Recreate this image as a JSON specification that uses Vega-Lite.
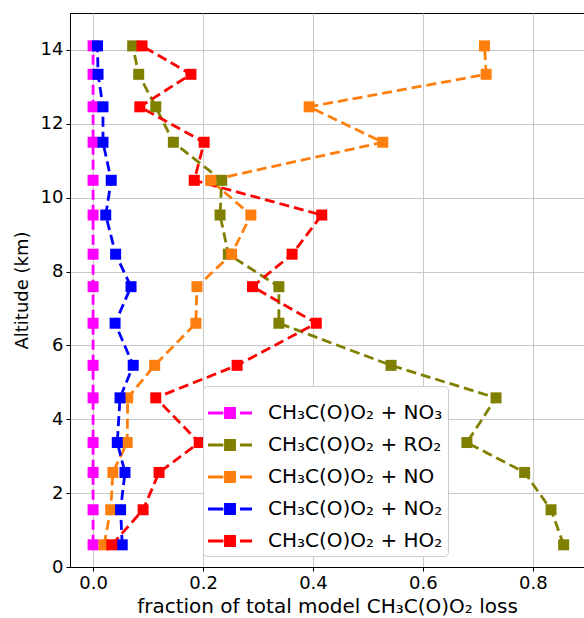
{
  "$schema": "https://vega.github.io/schema/vega-lite/v6.json",
  "width": 514,
  "height": 554,
  "autosize": {"type": "none"},
  "padding": {"left": 70, "top": 13, "right": 0, "bottom": 51},
  "background": "white",
  "config": {
    "font": "DejaVu Sans",
    "view": {"stroke": "#000000", "strokeWidth": 1},
    "axis": {
      "labelFont": "DejaVu Sans",
      "titleFont": "DejaVu Sans",
      "labelFontSize": 18,
      "titleFontSize": 18,
      "titleFontWeight": "normal",
      "labelColor": "#000000",
      "titleColor": "#000000",
      "domainColor": "#000000",
      "tickColor": "#000000",
      "tickSize": 4,
      "labelPadding": 3,
      "gridColor": "#c8c8c8",
      "gridWidth": 1
    },
    "legend": {
      "labelFont": "DejaVu Sans",
      "labelFontSize": 20,
      "labelColor": "#000000"
    }
  },
  "resolve": {"legend": {"color": "independent"}},
  "data": {
    "values": [
      {"s": "CH₃C(O)O₂ + NO₃", "a": 14.11, "f": 0.0},
      {"s": "CH₃C(O)O₂ + NO₃", "a": 13.34, "f": 0.0},
      {"s": "CH₃C(O)O₂ + NO₃", "a": 12.46, "f": 0.0},
      {"s": "CH₃C(O)O₂ + NO₃", "a": 11.5, "f": 0.0},
      {"s": "CH₃C(O)O₂ + NO₃", "a": 10.47, "f": 0.0},
      {"s": "CH₃C(O)O₂ + NO₃", "a": 9.53, "f": 0.0},
      {"s": "CH₃C(O)O₂ + NO₃", "a": 8.47, "f": 0.0},
      {"s": "CH₃C(O)O₂ + NO₃", "a": 7.59, "f": 0.0},
      {"s": "CH₃C(O)O₂ + NO₃", "a": 6.6, "f": 0.0},
      {"s": "CH₃C(O)O₂ + NO₃", "a": 5.46, "f": 0.0},
      {"s": "CH₃C(O)O₂ + NO₃", "a": 4.58, "f": 0.0},
      {"s": "CH₃C(O)O₂ + NO₃", "a": 3.37, "f": 0.0},
      {"s": "CH₃C(O)O₂ + NO₃", "a": 2.56, "f": 0.0},
      {"s": "CH₃C(O)O₂ + NO₃", "a": 1.55, "f": 0.0},
      {"s": "CH₃C(O)O₂ + NO₃", "a": 0.6, "f": 0.0},

      {"s": "CH₃C(O)O₂ + RO₂", "a": 14.11, "f": 0.072},
      {"s": "CH₃C(O)O₂ + RO₂", "a": 13.34, "f": 0.083},
      {"s": "CH₃C(O)O₂ + RO₂", "a": 12.46, "f": 0.114},
      {"s": "CH₃C(O)O₂ + RO₂", "a": 11.5, "f": 0.146},
      {"s": "CH₃C(O)O₂ + RO₂", "a": 10.47, "f": 0.234},
      {"s": "CH₃C(O)O₂ + RO₂", "a": 9.53, "f": 0.231},
      {"s": "CH₃C(O)O₂ + RO₂", "a": 8.47, "f": 0.246},
      {"s": "CH₃C(O)O₂ + RO₂", "a": 7.59, "f": 0.338},
      {"s": "CH₃C(O)O₂ + RO₂", "a": 6.6, "f": 0.338},
      {"s": "CH₃C(O)O₂ + RO₂", "a": 5.46, "f": 0.542},
      {"s": "CH₃C(O)O₂ + RO₂", "a": 4.58, "f": 0.733},
      {"s": "CH₃C(O)O₂ + RO₂", "a": 3.37, "f": 0.68},
      {"s": "CH₃C(O)O₂ + RO₂", "a": 2.56, "f": 0.785},
      {"s": "CH₃C(O)O₂ + RO₂", "a": 1.55, "f": 0.833},
      {"s": "CH₃C(O)O₂ + RO₂", "a": 0.6, "f": 0.856},

      {"s": "CH₃C(O)O₂ + NO", "a": 14.11, "f": 0.712},
      {"s": "CH₃C(O)O₂ + NO", "a": 13.34, "f": 0.715},
      {"s": "CH₃C(O)O₂ + NO", "a": 12.46, "f": 0.393},
      {"s": "CH₃C(O)O₂ + NO", "a": 11.5, "f": 0.527},
      {"s": "CH₃C(O)O₂ + NO", "a": 10.47, "f": 0.214},
      {"s": "CH₃C(O)O₂ + NO", "a": 9.53, "f": 0.287},
      {"s": "CH₃C(O)O₂ + NO", "a": 8.47, "f": 0.252},
      {"s": "CH₃C(O)O₂ + NO", "a": 7.59, "f": 0.189},
      {"s": "CH₃C(O)O₂ + NO", "a": 6.6, "f": 0.187},
      {"s": "CH₃C(O)O₂ + NO", "a": 5.46, "f": 0.112},
      {"s": "CH₃C(O)O₂ + NO", "a": 4.58, "f": 0.063},
      {"s": "CH₃C(O)O₂ + NO", "a": 3.37, "f": 0.062},
      {"s": "CH₃C(O)O₂ + NO", "a": 2.56, "f": 0.036},
      {"s": "CH₃C(O)O₂ + NO", "a": 1.55, "f": 0.032},
      {"s": "CH₃C(O)O₂ + NO", "a": 0.6, "f": 0.02},

      {"s": "CH₃C(O)O₂ + NO₂", "a": 14.11, "f": 0.008},
      {"s": "CH₃C(O)O₂ + NO₂", "a": 13.34, "f": 0.009},
      {"s": "CH₃C(O)O₂ + NO₂", "a": 12.46, "f": 0.018},
      {"s": "CH₃C(O)O₂ + NO₂", "a": 11.5, "f": 0.018},
      {"s": "CH₃C(O)O₂ + NO₂", "a": 10.47, "f": 0.033},
      {"s": "CH₃C(O)O₂ + NO₂", "a": 9.53, "f": 0.023},
      {"s": "CH₃C(O)O₂ + NO₂", "a": 8.47, "f": 0.041},
      {"s": "CH₃C(O)O₂ + NO₂", "a": 7.59, "f": 0.069},
      {"s": "CH₃C(O)O₂ + NO₂", "a": 6.6, "f": 0.04},
      {"s": "CH₃C(O)O₂ + NO₂", "a": 5.46, "f": 0.073},
      {"s": "CH₃C(O)O₂ + NO₂", "a": 4.58, "f": 0.049},
      {"s": "CH₃C(O)O₂ + NO₂", "a": 3.37, "f": 0.044},
      {"s": "CH₃C(O)O₂ + NO₂", "a": 2.56, "f": 0.058},
      {"s": "CH₃C(O)O₂ + NO₂", "a": 1.55, "f": 0.05},
      {"s": "CH₃C(O)O₂ + NO₂", "a": 0.6, "f": 0.053},

      {"s": "CH₃C(O)O₂ + HO₂", "a": 14.11, "f": 0.089},
      {"s": "CH₃C(O)O₂ + HO₂", "a": 13.34, "f": 0.178},
      {"s": "CH₃C(O)O₂ + HO₂", "a": 12.46, "f": 0.085},
      {"s": "CH₃C(O)O₂ + HO₂", "a": 11.5, "f": 0.202},
      {"s": "CH₃C(O)O₂ + HO₂", "a": 10.47, "f": 0.184},
      {"s": "CH₃C(O)O₂ + HO₂", "a": 9.53, "f": 0.416},
      {"s": "CH₃C(O)O₂ + HO₂", "a": 8.47, "f": 0.362},
      {"s": "CH₃C(O)O₂ + HO₂", "a": 7.59, "f": 0.29},
      {"s": "CH₃C(O)O₂ + HO₂", "a": 6.6, "f": 0.406},
      {"s": "CH₃C(O)O₂ + HO₂", "a": 5.46, "f": 0.262},
      {"s": "CH₃C(O)O₂ + HO₂", "a": 4.58, "f": 0.114},
      {"s": "CH₃C(O)O₂ + HO₂", "a": 3.37, "f": 0.193},
      {"s": "CH₃C(O)O₂ + HO₂", "a": 2.56, "f": 0.12},
      {"s": "CH₃C(O)O₂ + HO₂", "a": 1.55, "f": 0.091},
      {"s": "CH₃C(O)O₂ + HO₂", "a": 0.6, "f": 0.034}
    ]
  },
  "encoding": {
    "x": {
      "field": "f",
      "type": "quantitative",
      "scale": {"domain": [-0.042, 0.893], "nice": false, "zero": false},
      "axis": {
        "values": [0, 0.2, 0.4, 0.6, 0.8],
        "format": ".1f",
        "title": "fraction of total model CH₃C(O)O₂ loss",
        "titleFontSize": 20,
        "titleBaseline": "alphabetic",
        "titleY": 45
      }
    },
    "y": {
      "field": "a",
      "type": "quantitative",
      "scale": {"domain": [0, 15], "nice": false, "zero": false},
      "axis": {
        "values": [0, 2, 4, 6, 8, 10, 12, 14],
        "title": "Altitude (km)",
        "titlePadding": 9
      }
    }
  },
  "layer": [
    {
      "mark": {"type": "line", "strokeDash": [10, 5], "strokeWidth": 2.8},
      "encoding": {
        "order": {"field": "a", "type": "quantitative"},
        "color": {
          "field": "s",
          "type": "nominal",
          "scale": {
            "domain": ["CH₃C(O)O₂ + NO₃", "CH₃C(O)O₂ + RO₂", "CH₃C(O)O₂ + NO", "CH₃C(O)O₂ + NO₂", "CH₃C(O)O₂ + HO₂"],
            "range": ["#ff00ff", "#808000", "#ff7f0e", "#0000ff", "#ff0000"]
          },
          "legend": null
        }
      }
    },
    {
      "mark": {"type": "point", "shape": "square", "filled": true, "size": 121, "opacity": 1},
      "encoding": {
        "color": {
          "field": "s",
          "type": "nominal",
          "scale": {
            "domain": ["CH₃C(O)O₂ + NO₃", "CH₃C(O)O₂ + RO₂", "CH₃C(O)O₂ + NO", "CH₃C(O)O₂ + NO₂", "CH₃C(O)O₂ + HO₂"],
            "range": ["#ff00ff", "#808000", "#ff7f0e", "#0000ff", "#ff0000"]
          },
          "legend": {
            "title": null,
            "orient": "none",
            "legendX": 133,
            "legendY": 373,
            "padding": 5,
            "fillColor": "white",
            "strokeColor": "#cccccc",
            "cornerRadius": 4,
            "symbolType": "M-1,-0.07H-0.3V0.07H-1Z M-0.27,-0.27H0.27V0.27H-0.27Z M0.45,-0.07H1V0.07H0.45Z",
            "symbolSize": 1936,
            "symbolStrokeWidth": 0,
            "symbolOpacity": 1,
            "labelOffset": 16,
            "rowPadding": 0,
            "labelLimit": 300
          }
        }
      }
    }
  ]
}
